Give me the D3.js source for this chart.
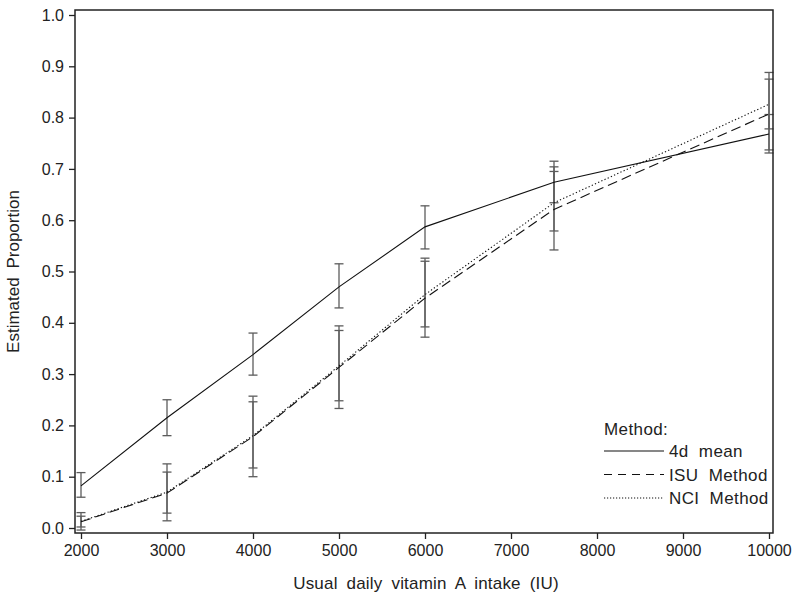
<!DOCTYPE html>
<html>
<head>
<meta charset="utf-8">
<script src="https://cdn.jsdelivr.net/npm/d3@7"></script>
<style>
  body { margin: 0; background: #fff; }
  text { font-family: 'Liberation Sans', Arial, sans-serif; fill: #222; }
</style>
</head>
<body>
<div id="chart"></div>
<script>
// usual intake levels (x) and estimated proportions per method
const intake = [2000, 3000, 4000, 5000, 6000, 7500, 10000]

const meanEst = [0.082, 0.215, 0.338, 0.47, 0.587, 0.674, 0.768]
const meanLo = [0.06, 0.18, 0.298, 0.429, 0.544, 0.634, 0.731]
const meanHi = [0.108, 0.25, 0.38, 0.515, 0.628, 0.715, 0.806]

const isuEst = [0.012, 0.068, 0.178, 0.313, 0.448, 0.621, 0.807]
const isuLo = [-0.004, 0.014, 0.1, 0.233, 0.372, 0.542, 0.737]
const isuHi = [0.03, 0.125, 0.257, 0.394, 0.526, 0.704, 0.875]

const nciEst = [0.013, 0.07, 0.18, 0.316, 0.455, 0.634, 0.826]
const nciLo = [0.002, 0.029, 0.117, 0.248, 0.392, 0.579, 0.778]
const nciHi = [0.023, 0.109, 0.246, 0.385, 0.52, 0.695, 0.888]

const xTicks = [2000, 3000, 4000, 5000, 6000, 7000, 8000, 9000, 10000]
const yTicks = [0, 0.1, 0.2, 0.3, 0.4, 0.5, 0.6, 0.7, 0.8, 0.9, 1.0]

const methods = ['4d mean', 'ISU Method', 'NCI Method']

const margin = { top: 10, left: 75, right: 27, bottom: 70 }
const width = 800 - margin.left - margin.right
const height = 603 - margin.top - margin.bottom

const svg = d3
  .select('#chart')
  .append('svg')
  .attr('width', width + margin.left + margin.right)
  .attr('height', height + margin.top + margin.bottom)
  .append('g')
  .attr('transform', 'translate(' + margin.left + ',' + margin.top + ')')

const xScale = d3.scaleLinear().domain([2000, 10000]).range([6, width - 4])
const yScale = d3.scaleLinear().domain([0, 1]).range([height - 5, 5])

const series = [
  { name: methods[0], est: meanEst, lo: meanLo, hi: meanHi, dash: null, legendDash: null },
  { name: methods[1], est: isuEst, lo: isuLo, hi: isuHi, dash: '10,5', legendDash: '8,6' },
  { name: methods[2], est: nciEst, lo: nciLo, hi: nciHi, dash: '1.3,2.2', legendDash: '1.2,1.8' }
]

// error bars
series.forEach(s => {
  const bars = svg
    .append('g')
    .attr('class', 'errbars')
    .selectAll('g')
    .data(intake.map((x, i) => ({ x: x, lo: s.lo[i], hi: s.hi[i] })))
    .enter()
    .append('g')
    .attr('stroke', '#5c5c5c')
    .attr('stroke-width', 1.3)

  bars
    .append('line')
    .attr('x1', d => xScale(d.x))
    .attr('x2', d => xScale(d.x))
    .attr('y1', d => yScale(d.lo))
    .attr('y2', d => yScale(d.hi))
  bars
    .append('line')
    .attr('x1', d => xScale(d.x) - 4.5)
    .attr('x2', d => xScale(d.x) + 4.5)
    .attr('y1', d => yScale(d.lo))
    .attr('y2', d => yScale(d.lo))
  bars
    .append('line')
    .attr('x1', d => xScale(d.x) - 4.5)
    .attr('x2', d => xScale(d.x) + 4.5)
    .attr('y1', d => yScale(d.hi))
    .attr('y2', d => yScale(d.hi))
})

// lines
const line = d3
  .line()
  .x((d, i) => xScale(intake[i]))
  .y(d => yScale(d))

series.forEach(s => {
  svg
    .append('path')
    .datum(s.est)
    .attr('fill', 'none')
    .attr('stroke', '#111')
    .attr('stroke-width', 1.1)
    .attr('stroke-dasharray', s.dash)
    .attr('d', line)
})

// frame
svg
  .append('rect')
  .attr('x', 0)
  .attr('y', 0)
  .attr('width', width)
  .attr('height', height)
  .attr('fill', 'none')
  .attr('stroke', '#222')
  .attr('stroke-width', 1.5)

const xAxis = d3.axisBottom(xScale).tickValues(xTicks).tickSize(6).tickPadding(6).tickFormat(d3.format('d'))
const yAxis = d3.axisLeft(yScale).tickValues(yTicks).tickSize(6).tickPadding(5).tickFormat(d3.format('.1f'))

const gx = svg.append('g').attr('transform', `translate(0,${height})`).call(xAxis)
const gy = svg.append('g').call(yAxis)
;[gx, gy].forEach(g => {
  g.select('.domain').remove()
  g.selectAll('.tick line').attr('stroke', '#222').attr('stroke-width', 1.3)
  g.selectAll('.tick text').style('font-size', '16px').attr('fill', '#222')
})

svg
  .append('text')
  .attr('x', width / 2 + 2)
  .attr('y', height + 56)
  .attr('text-anchor', 'middle')
  .style('font-size', '17px')
  .style('word-spacing', '4px')
  .style('letter-spacing', '0.2px')
  .text('Usual daily vitamin A intake (IU)')

svg
  .append('text')
  .attr('transform', `translate(${-56},${height / 2}) rotate(-90)`)
  .attr('text-anchor', 'middle')
  .style('font-size', '17px')
  .style('word-spacing', '4px')
  .text('Estimated Proportion')

// legend
const legend = svg.append('g').attr('class', 'legend').attr('transform', 'translate(529, 425)')

legend
  .append('text')
  .attr('x', 0)
  .attr('y', 0)
  .style('font-size', '17px')
  .style('letter-spacing', '0.4px')
  .text('Method:')

legend
  .selectAll('.legend-row')
  .data(series)
  .enter()
  .append('g')
  .attr('class', 'legend-row')
  .attr('transform', (d, i) => `translate(0,${16 + i * 23.5})`)
  .each(function(d) {
    const g = d3.select(this)
    g.append('line')
      .attr('x1', 0)
      .attr('x2', 60)
      .attr('y1', 0)
      .attr('y2', 0)
      .attr('stroke', '#111')
      .attr('stroke-width', 1.1)
      .attr('stroke-dasharray', d.legendDash)
    g.append('text')
      .text(d.name)
      .attr('x', 65)
      .attr('y', 6)
      .style('font-size', '17px')
      .style('letter-spacing', '0.4px')
      .style('word-spacing', '5px')
  })
</script>
</body>
</html>
